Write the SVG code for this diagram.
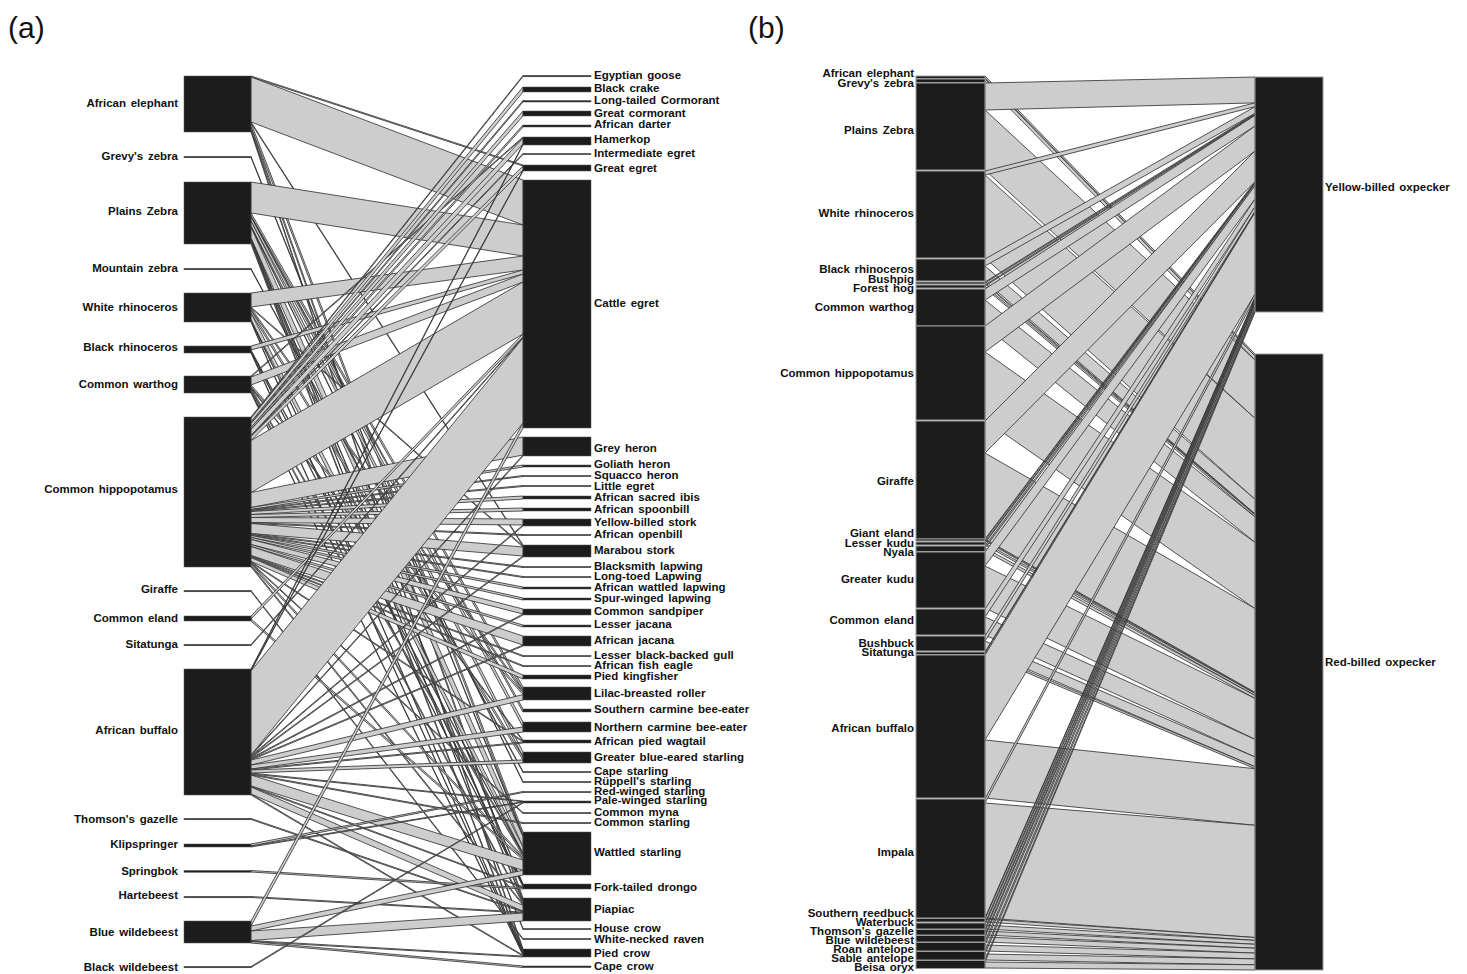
<svg xmlns="http://www.w3.org/2000/svg" width="1467" height="974" viewBox="0 0 1467 974">
<style>
.lk{fill:#cdcdcd;stroke:#2b2b2b;stroke-width:0.8;stroke-linejoin:round}
.n{fill:#1c1c1c;stroke:#555;stroke-width:0.5}
.nb{fill:#1c1c1c;stroke:#9a9a9a;stroke-width:1}
.t{font-family:"Liberation Sans",Arial,sans-serif;font-weight:bold;font-size:11.5px;fill:#111;word-spacing:1.5px}
.e{text-anchor:end}
.p{font-family:"Liberation Sans",Arial,sans-serif;font-size:30px;fill:#111}
</style>
<rect x="0" y="0" width="1467" height="974" fill="#fff"/>
<text class="p" x="8" y="38">(a)</text>
<text class="p" x="748" y="38">(b)</text>

<g id="links-a" class="lk">
<polygon points="251,76 523,165 523,166 251,77"/>
<polygon points="251,77 523,180 523,225 251,122"/>
<polygon points="251,122 523,545 523,546 251,123"/>
<polygon points="251,123 523,832 523,835.7 251,127"/>
<polygon points="251,127 523,898 523,900.6 251,130"/>
<polygon points="251,130 523,949 523,950.8 251,132"/>
<polygon points="251,156.5 523,835.7 523,836.7 251,157.5"/>
<polygon points="251,182 523,225 523,256 251,213"/>
<polygon points="251,213 523,687 523,690.2 251,216"/>
<polygon points="251,216 523,709 523,712 251,217"/>
<polygon points="251,217 523,722 523,727 251,221"/>
<polygon points="251,221 523,752 523,757 251,226"/>
<polygon points="251,226 523,781.5 523,782.5 251,227"/>
<polygon points="251,227 523,836.7 523,847 251,238"/>
<polygon points="251,238 523,884 523,884.9 251,239"/>
<polygon points="251,239 523,900.6 523,902.3 251,241"/>
<polygon points="251,241 523,928.5 523,929.5 251,242"/>
<polygon points="251,242 523,950.8 523,952.6 251,244"/>
<polygon points="251,268.5 523,771.5 523,772.5 251,269.5"/>
<polygon points="251,293 523,256 523,270 251,307"/>
<polygon points="251,307 523,546 523,547 251,308"/>
<polygon points="251,308 523,690.2 523,692.4 251,310"/>
<polygon points="251,310 523,757 523,760 251,313"/>
<polygon points="251,313 523,847 523,853.5 251,320"/>
<polygon points="251,320 523,884.9 523,885.8 251,321"/>
<polygon points="251,321 523,952.6 523,953.4 251,322"/>
<polygon points="251,346 523,270 523,274 251,350"/>
<polygon points="251,350 523,853.5 523,854.4 251,351"/>
<polygon points="251,351 523,885.8 523,886.7 251,352"/>
<polygon points="251,352 523,953.4 523,954.3 251,353"/>
<polygon points="251,376 523,137 523,138 251,377"/>
<polygon points="251,377 523,274 523,282 251,385"/>
<polygon points="251,385 523,692.4 523,694.6 251,387"/>
<polygon points="251,387 523,740 523,741 251,388"/>
<polygon points="251,388 523,854.4 523,856.3 251,390"/>
<polygon points="251,390 523,902.3 523,904 251,392"/>
<polygon points="251,392 523,954.3 523,955.2 251,393"/>
<polygon points="251,417 523,75.5 523,76.5 251,418"/>
<polygon points="251,418 523,87 523,92 251,422"/>
<polygon points="251,422 523,100.5 523,102 251,423.5"/>
<polygon points="251,423.5 523,111 523,116 251,427.5"/>
<polygon points="251,427.5 523,125 523,127 251,429.5"/>
<polygon points="251,429.5 523,138 523,144 251,435.5"/>
<polygon points="251,435.5 523,153.5 523,154.5 251,436.5"/>
<polygon points="251,436.5 523,166 523,170 251,440.5"/>
<polygon points="251,440.5 523,282 523,334 251,492.5"/>
<polygon points="251,492.5 523,437 523,455 251,507.5"/>
<polygon points="251,507.5 523,465 523,467 251,509.5"/>
<polygon points="251,509.5 523,475.5 523,476.5 251,510.5"/>
<polygon points="251,510.5 523,485.5 523,486.5 251,511.5"/>
<polygon points="251,511.5 523,496 523,499 251,514.5"/>
<polygon points="251,514.5 523,508 523,511 251,517.5"/>
<polygon points="251,517.5 523,519 523,525 251,522.5"/>
<polygon points="251,522.5 523,534.5 523,535.5 251,523.5"/>
<polygon points="251,523.5 523,547 523,556 251,533.5"/>
<polygon points="251,533.5 523,566.5 523,567.5 251,534.5"/>
<polygon points="251,534.5 523,576.5 523,577.5 251,535.5"/>
<polygon points="251,535.5 523,587 523,589 251,537.5"/>
<polygon points="251,537.5 523,598 523,600 251,539.5"/>
<polygon points="251,539.5 523,609 523,614 251,544.5"/>
<polygon points="251,544.5 523,625 523,627 251,546.5"/>
<polygon points="251,546.5 523,636 523,645 251,555.5"/>
<polygon points="251,555.5 523,655.5 523,656.5 251,556.5"/>
<polygon points="251,556.5 523,665.5 523,666.5 251,557.5"/>
<polygon points="251,557.5 523,675 523,679 251,561.5"/>
<polygon points="251,561.5 523,741 523,742 251,562.5"/>
<polygon points="251,562.5 523,812.5 523,813.5 251,563.5"/>
<polygon points="251,563.5 523,856.3 523,858.2 251,565.5"/>
<polygon points="251,565.5 523,904 523,905.3 251,567"/>
<polygon points="251,590.5 523,938.5 523,939.5 251,591.5"/>
<polygon points="251,616 523,334 523,337 251,619"/>
<polygon points="251,619 523,858.2 523,860 251,621"/>
<polygon points="251,644.5 523,337 523,338 251,645.5"/>
<polygon points="251,669 523,144 523,145 251,670"/>
<polygon points="251,670 523,170 523,171 251,671"/>
<polygon points="251,671 523,338 523,423 251,755"/>
<polygon points="251,755 523,455 523,456 251,756"/>
<polygon points="251,756 523,525 523,526 251,757"/>
<polygon points="251,757 523,556 523,557 251,758"/>
<polygon points="251,758 523,614 523,615 251,759"/>
<polygon points="251,759 523,645 523,646 251,760"/>
<polygon points="251,760 523,694.6 523,700 251,765"/>
<polygon points="251,765 523,727 523,732 251,769"/>
<polygon points="251,769 523,742 523,743 251,770"/>
<polygon points="251,770 523,760 523,763 251,773"/>
<polygon points="251,773 523,801 523,801.7 251,774"/>
<polygon points="251,774 523,822.5 523,823.5 251,775"/>
<polygon points="251,775 523,860 523,870.3 251,786"/>
<polygon points="251,786 523,886.7 523,887.6 251,787"/>
<polygon points="251,787 523,905.3 523,911.2 251,794"/>
<polygon points="251,794 523,955.2 523,956.1 251,795"/>
<polygon points="251,818.5 523,911.2 523,912.1 251,819.5"/>
<polygon points="251,844 523,791.5 523,792.5 251,846"/>
<polygon points="251,846 523,801.7 523,802.3 251,847"/>
<polygon points="251,870.5 523,887.6 523,889 251,872"/>
<polygon points="251,896.5 523,912.1 523,913 251,897.5"/>
<polygon points="251,921 523,423 523,428 251,926"/>
<polygon points="251,926 523,870.3 523,875 251,931"/>
<polygon points="251,931 523,913 523,921 251,940.5"/>
<polygon points="251,940.5 523,956.1 523,957 251,941.5"/>
<polygon points="251,941.5 523,966 523,967.5 251,943"/>
<polygon points="251,966.5 523,802.3 523,803 251,967.5"/>
</g>

<g id="nodes-a-left" class="t e">
<g id="a-african-elephant"><rect class="n" x="184" y="76" width="67" height="56"/><text x="178" y="107">African elephant</text></g>
<g id="a-grevys-zebra"><rect class="n" x="184" y="156.3" width="67" height="1.5"/><text x="178" y="160">Grevy's zebra</text></g>
<g id="a-plains-zebra"><rect class="n" x="184" y="182" width="67" height="62"/><text x="178" y="215">Plains Zebra</text></g>
<g id="a-mountain-zebra"><rect class="n" x="184" y="268.3" width="67" height="1.5"/><text x="178" y="272">Mountain zebra</text></g>
<g id="a-white-rhinoceros"><rect class="n" x="184" y="293" width="67" height="29"/><text x="178" y="311">White rhinoceros</text></g>
<g id="a-black-rhinoceros"><rect class="n" x="184" y="346" width="67" height="7"/><text x="178" y="351">Black rhinoceros</text></g>
<g id="a-common-warthog"><rect class="n" x="184" y="376" width="67" height="17"/><text x="178" y="388">Common warthog</text></g>
<g id="a-common-hippopotamus"><rect class="n" x="184" y="417" width="67" height="150"/><text x="178" y="493">Common hippopotamus</text></g>
<g id="a-giraffe"><rect class="n" x="184" y="590.3" width="67" height="1.5"/><text x="178" y="593">Giraffe</text></g>
<g id="a-common-eland"><rect class="n" x="184" y="616" width="67" height="5"/><text x="178" y="622">Common eland</text></g>
<g id="a-sitatunga"><rect class="n" x="184" y="644.3" width="67" height="1.5"/><text x="178" y="648">Sitatunga</text></g>
<g id="a-african-buffalo"><rect class="n" x="184" y="669" width="67" height="126"/><text x="178" y="734">African buffalo</text></g>
<g id="a-thomsons-gazelle"><rect class="n" x="184" y="818.3" width="67" height="1.5"/><text x="178" y="823">Thomson's gazelle</text></g>
<g id="a-klipspringer"><rect class="n" x="184" y="844" width="67" height="3"/><text x="178" y="848">Klipspringer</text></g>
<g id="a-springbok"><rect class="n" x="184" y="870.5" width="67" height="1.8"/><text x="178" y="875">Springbok</text></g>
<g id="a-hartebeest"><rect class="n" x="184" y="896.3" width="67" height="1.5"/><text x="178" y="899">Hartebeest</text></g>
<g id="a-blue-wildebeest"><rect class="n" x="184" y="921" width="67" height="22"/><text x="178" y="936">Blue wildebeest</text></g>
<g id="a-black-wildebeest"><rect class="n" x="184" y="966.3" width="67" height="1.5"/><text x="178" y="971">Black wildebeest</text></g>
</g>

<g id="nodes-a-right" class="t">
<g id="a-egyptian-goose"><rect class="n" x="523" y="75.3" width="68" height="1.5"/><text x="594" y="79">Egyptian goose</text></g>
<g id="a-black-crake"><rect class="n" x="523" y="87" width="68" height="5"/><text x="594" y="92">Black crake</text></g>
<g id="a-long-tailed-cormorant"><rect class="n" x="523" y="100.5" width="68" height="1.5"/><text x="594" y="104">Long-tailed Cormorant</text></g>
<g id="a-great-cormorant"><rect class="n" x="523" y="111" width="68" height="5"/><text x="594" y="117">Great cormorant</text></g>
<g id="a-african-darter"><rect class="n" x="523" y="125" width="68" height="2"/><text x="594" y="128">African darter</text></g>
<g id="a-hamerkop"><rect class="n" x="523" y="137" width="68" height="8"/><text x="594" y="143">Hamerkop</text></g>
<g id="a-intermediate-egret"><rect class="n" x="523" y="153.4" width="68" height="1.3"/><text x="594" y="157">Intermediate egret</text></g>
<g id="a-great-egret"><rect class="n" x="523" y="165" width="68" height="6"/><text x="594" y="172">Great egret</text></g>
<g id="a-cattle-egret"><rect class="n" x="523" y="180" width="68" height="248"/><text x="594" y="307">Cattle egret</text></g>
<g id="a-grey-heron"><rect class="n" x="523" y="437" width="68" height="19"/><text x="594" y="452">Grey heron</text></g>
<g id="a-goliath-heron"><rect class="n" x="523" y="465" width="68" height="2"/><text x="594" y="468">Goliath heron</text></g>
<g id="a-squacco-heron"><rect class="n" x="523" y="475.4" width="68" height="1.3"/><text x="594" y="479">Squacco heron</text></g>
<g id="a-little-egret"><rect class="n" x="523" y="485.4" width="68" height="1.3"/><text x="594" y="490">Little egret</text></g>
<g id="a-african-sacred-ibis"><rect class="n" x="523" y="496" width="68" height="3"/><text x="594" y="501">African sacred ibis</text></g>
<g id="a-african-spoonbill"><rect class="n" x="523" y="508" width="68" height="3"/><text x="594" y="513">African spoonbill</text></g>
<g id="a-yellow-billed-stork"><rect class="n" x="523" y="519" width="68" height="7"/><text x="594" y="526">Yellow-billed stork</text></g>
<g id="a-african-openbill"><rect class="n" x="523" y="534.4" width="68" height="1.3"/><text x="594" y="538">African openbill</text></g>
<g id="a-marabou-stork"><rect class="n" x="523" y="545" width="68" height="12"/><text x="594" y="554">Marabou stork</text></g>
<g id="a-blacksmith-lapwing"><rect class="n" x="523" y="566.4" width="68" height="1.3"/><text x="594" y="570">Blacksmith lapwing</text></g>
<g id="a-long-toed-lapwing"><rect class="n" x="523" y="576.4" width="68" height="1.3"/><text x="594" y="580">Long-toed Lapwing</text></g>
<g id="a-african-wattled-lapwing"><rect class="n" x="523" y="587" width="68" height="2"/><text x="594" y="591">African wattled lapwing</text></g>
<g id="a-spur-winged-lapwing"><rect class="n" x="523" y="598" width="68" height="2"/><text x="594" y="602">Spur-winged lapwing</text></g>
<g id="a-common-sandpiper"><rect class="n" x="523" y="609" width="68" height="6"/><text x="594" y="615">Common sandpiper</text></g>
<g id="a-lesser-jacana"><rect class="n" x="523" y="625" width="68" height="2"/><text x="594" y="628">Lesser jacana</text></g>
<g id="a-african-jacana"><rect class="n" x="523" y="636" width="68" height="10"/><text x="594" y="644">African jacana</text></g>
<g id="a-lesser-black-backed-gull"><rect class="n" x="523" y="655.4" width="68" height="1.3"/><text x="594" y="659">Lesser black-backed gull</text></g>
<g id="a-african-fish-eagle"><rect class="n" x="523" y="665.4" width="68" height="1.3"/><text x="594" y="669">African fish eagle</text></g>
<g id="a-pied-kingfisher"><rect class="n" x="523" y="675" width="68" height="4"/><text x="594" y="680">Pied kingfisher</text></g>
<g id="a-lilac-breasted-roller"><rect class="n" x="523" y="687" width="68" height="13"/><text x="594" y="697">Lilac-breasted roller</text></g>
<g id="a-southern-carmine-bee-eater"><rect class="n" x="523" y="709" width="68" height="3"/><text x="594" y="713">Southern carmine bee-eater</text></g>
<g id="a-northern-carmine-bee-eater"><rect class="n" x="523" y="722" width="68" height="10"/><text x="594" y="731">Northern carmine bee-eater</text></g>
<g id="a-african-pied-wagtail"><rect class="n" x="523" y="740" width="68" height="3"/><text x="594" y="745">African pied wagtail</text></g>
<g id="a-greater-blue-eared-starling"><rect class="n" x="523" y="752" width="68" height="11"/><text x="594" y="761">Greater blue-eared starling</text></g>
<g id="a-cape-starling"><rect class="n" x="523" y="771.4" width="68" height="1.3"/><text x="594" y="775">Cape starling</text></g>
<g id="a-ruppells-starling"><rect class="n" x="523" y="781.4" width="68" height="1.3"/><text x="594" y="785">Rüppell's starling</text></g>
<g id="a-red-winged-starling"><rect class="n" x="523" y="791.4" width="68" height="1.3"/><text x="594" y="795">Red-winged starling</text></g>
<g id="a-pale-winged-starling"><rect class="n" x="523" y="801" width="68" height="2"/><text x="594" y="804">Pale-winged starling</text></g>
<g id="a-common-myna"><rect class="n" x="523" y="812.4" width="68" height="1.3"/><text x="594" y="816">Common myna</text></g>
<g id="a-common-starling"><rect class="n" x="523" y="822.4" width="68" height="1.3"/><text x="594" y="826">Common starling</text></g>
<g id="a-wattled-starling"><rect class="n" x="523" y="832" width="68" height="43"/><text x="594" y="856">Wattled starling</text></g>
<g id="a-fork-tailed-drongo"><rect class="n" x="523" y="884" width="68" height="5"/><text x="594" y="891">Fork-tailed drongo</text></g>
<g id="a-piapiac"><rect class="n" x="523" y="898" width="68" height="23"/><text x="594" y="913">Piapiac</text></g>
<g id="a-house-crow"><rect class="n" x="523" y="928.4" width="68" height="1.3"/><text x="594" y="932">House crow</text></g>
<g id="a-white-necked-raven"><rect class="n" x="523" y="938.4" width="68" height="1.3"/><text x="594" y="943">White-necked raven</text></g>
<g id="a-pied-crow"><rect class="n" x="523" y="949" width="68" height="8"/><text x="594" y="957">Pied crow</text></g>
<g id="a-cape-crow"><rect class="n" x="523" y="966" width="68" height="1.6"/><text x="594" y="970">Cape crow</text></g>
</g>

<g id="links-b" class="lk">
<polygon points="985,76 1255,354 1255,356 985,78"/>
<polygon points="985,79 1255,356 1255,360 985,83"/>
<polygon points="985,83 1255,77 1255,102.9 985,110"/>
<polygon points="985,110 1255,360 1255,418.4 985,170"/>
<polygon points="985,171 1255,102.9 1255,106.7 985,175"/>
<polygon points="985,175 1255,418.4 1255,499.3 985,258"/>
<polygon points="985,259 1255,106.7 1255,113.4 985,266"/>
<polygon points="985,266 1255,499.3 1255,513.9 985,281"/>
<polygon points="985,282 1255,113.4 1255,114.4 985,283"/>
<polygon points="985,283 1255,513.9 1255,514.9 985,284"/>
<polygon points="985,285 1255,114.4 1255,115.4 985,286"/>
<polygon points="985,286 1255,514.9 1255,516.9 985,288"/>
<polygon points="985,289 1255,115.4 1255,126 985,300"/>
<polygon points="985,300 1255,516.9 1255,542.3 985,326"/>
<polygon points="985,326 1255,126 1255,151 985,352"/>
<polygon points="985,352 1255,542.3 1255,608.6 985,420"/>
<polygon points="985,421 1255,151 1255,181.7 985,453"/>
<polygon points="985,453 1255,608.6 1255,692.5 985,539"/>
<polygon points="985,539 1255,181.7 1255,182.7 985,540"/>
<polygon points="985,540 1255,692.5 1255,693.5 985,541"/>
<polygon points="985,542 1255,182.7 1255,183.7 985,543"/>
<polygon points="985,543 1255,693.5 1255,695.5 985,545"/>
<polygon points="985,546 1255,183.7 1255,185.6 985,548"/>
<polygon points="985,548 1255,695.5 1255,698.4 985,551"/>
<polygon points="985,552 1255,185.6 1255,199 985,566"/>
<polygon points="985,566 1255,698.4 1255,739.4 985,608"/>
<polygon points="985,609 1255,199 1255,206.7 985,617"/>
<polygon points="985,617 1255,739.4 1255,757 985,635"/>
<polygon points="985,636 1255,206.7 1255,211.5 985,641"/>
<polygon points="985,641 1255,757 1255,766.7 985,651"/>
<polygon points="985,652 1255,211.5 1255,212.5 985,653"/>
<polygon points="985,653 1255,766.7 1255,768.7 985,655"/>
<polygon points="985,655 1255,212.5 1255,294.1 985,740"/>
<polygon points="985,740 1255,768.7 1255,825.3 985,798"/>
<polygon points="985,799 1255,294.1 1255,297.9 985,803"/>
<polygon points="985,803 1255,825.3 1255,937.5 985,918"/>
<polygon points="985,918 1255,297.9 1255,298.9 985,919"/>
<polygon points="985,919 1255,937.5 1255,940.4 985,922"/>
<polygon points="985,923 1255,298.9 1255,300.8 985,925"/>
<polygon points="985,925 1255,940.4 1255,944.3 985,929"/>
<polygon points="985,929 1255,300.8 1255,302.7 985,931"/>
<polygon points="985,931 1255,944.3 1255,948.2 985,935"/>
<polygon points="985,935 1255,302.7 1255,304.6 985,937"/>
<polygon points="985,937 1255,948.2 1255,953.1 985,942"/>
<polygon points="985,942 1255,304.6 1255,307.5 985,945"/>
<polygon points="985,945 1255,953.1 1255,958.9 985,951"/>
<polygon points="985,951 1255,307.5 1255,310.4 985,954"/>
<polygon points="985,954 1255,958.9 1255,964.8 985,960"/>
<polygon points="985,960 1255,310.4 1255,312.3 985,962"/>
<polygon points="985,962 1255,964.8 1255,970 985,968"/>
</g>

<g id="nodes-b-left" class="t e">
<g id="b-african-elephant"><rect class="nb" x="916" y="76" width="69" height="2.5"/><text x="914" y="77">African elephant</text></g>
<g id="b-grevys-zebra"><rect class="nb" x="916" y="79" width="69" height="3.5"/><text x="914" y="87">Grevy's zebra</text></g>
<g id="b-plains-zebra"><rect class="nb" x="916" y="83" width="69" height="87"/><text x="914" y="134">Plains Zebra</text></g>
<g id="b-white-rhinoceros"><rect class="nb" x="916" y="171" width="69" height="87"/><text x="914" y="217">White rhinoceros</text></g>
<g id="b-black-rhinoceros"><rect class="nb" x="916" y="259" width="69" height="22"/><text x="914" y="273">Black rhinoceros</text></g>
<g id="b-bushpig"><rect class="nb" x="916" y="282" width="69" height="2"/><text x="914" y="283">Bushpig</text></g>
<g id="b-forest-hog"><rect class="nb" x="916" y="285" width="69" height="3"/><text x="914" y="292">Forest hog</text></g>
<g id="b-common-warthog"><rect class="nb" x="916" y="289" width="69" height="37"/><text x="914" y="311">Common warthog</text></g>
<g id="b-common-hippopotamus"><rect class="nb" x="916" y="326" width="69" height="94"/><text x="914" y="377">Common hippopotamus</text></g>
<g id="b-giraffe"><rect class="nb" x="916" y="421" width="69" height="118"/><text x="914" y="485">Giraffe</text></g>
<g id="b-giant-eland"><rect class="nb" x="916" y="539" width="69" height="2"/><text x="914" y="537">Giant eland</text></g>
<g id="b-lesser-kudu"><rect class="nb" x="916" y="542" width="69" height="3"/><text x="914" y="547">Lesser kudu</text></g>
<g id="b-nyala"><rect class="nb" x="916" y="546" width="69" height="5.5"/><text x="914" y="556">Nyala</text></g>
<g id="b-greater-kudu"><rect class="nb" x="916" y="552" width="69" height="56"/><text x="914" y="583">Greater kudu</text></g>
<g id="b-common-eland"><rect class="nb" x="916" y="609" width="69" height="26"/><text x="914" y="624">Common eland</text></g>
<g id="b-bushbuck"><rect class="nb" x="916" y="636" width="69" height="15"/><text x="914" y="647">Bushbuck</text></g>
<g id="b-sitatunga"><rect class="nb" x="916" y="652" width="69" height="2.5"/><text x="914" y="656">Sitatunga</text></g>
<g id="b-african-buffalo"><rect class="nb" x="916" y="655" width="69" height="143"/><text x="914" y="732">African buffalo</text></g>
<g id="b-impala"><rect class="nb" x="916" y="799" width="69" height="119"/><text x="914" y="856">Impala</text></g>
<g id="b-southern-reedbuck"><rect class="nb" x="916" y="918.5" width="69" height="3.5"/><text x="914" y="917">Southern reedbuck</text></g>
<g id="b-waterbuck"><rect class="nb" x="916" y="923" width="69" height="6"/><text x="914" y="926">Waterbuck</text></g>
<g id="b-thomsons-gazelle"><rect class="nb" x="916" y="929.5" width="69" height="5.5"/><text x="914" y="935">Thomson's gazelle</text></g>
<g id="b-blue-wildebeest"><rect class="nb" x="916" y="935.5" width="69" height="6.5"/><text x="914" y="944">Blue wildebeest</text></g>
<g id="b-roan-antelope"><rect class="nb" x="916" y="942.5" width="69" height="8.5"/><text x="914" y="953">Roan antelope</text></g>
<g id="b-sable-antelope"><rect class="nb" x="916" y="951.5" width="69" height="8.5"/><text x="914" y="962">Sable antelope</text></g>
<g id="b-beisa-oryx"><rect class="nb" x="916" y="960.5" width="69" height="8"/><text x="914" y="971">Beisa oryx</text></g>
</g>

<g id="nodes-b-right" class="t">
<g id="b-yellow-billed-oxpecker"><rect class="nb" x="1255" y="77" width="68" height="235"/><text x="1325" y="191">Yellow-billed oxpecker</text></g>
<g id="b-red-billed-oxpecker"><rect class="nb" x="1255" y="354" width="68" height="616"/><text x="1325" y="666">Red-billed oxpecker</text></g>
</g>
</svg>
